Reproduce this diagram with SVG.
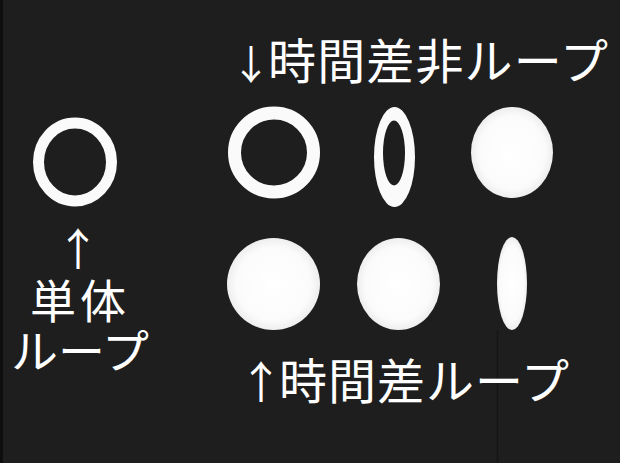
<svg xmlns="http://www.w3.org/2000/svg" width="620" height="463" viewBox="0 0 620 463">
<defs>
<radialGradient id="disc" cx="50%" cy="50%" r="50%">
<stop offset="0" stop-color="#ffffff"/>
<stop offset="0.8" stop-color="#fbfbfb"/>
<stop offset="1" stop-color="#eeeeee"/>
</radialGradient>
<style>
.lbl{font-family:"Noto Sans CJK JP","Noto Sans",sans-serif;fill:#ffffff;font-weight:400}
.ring{fill:none;stroke:#fafafa}
.solid{fill:url(#disc)}
</style>
</defs>
<rect width="620" height="463" fill="#1e1e1e"/>
<rect x="0" y="0" width="3" height="463" fill="#0e0e0e"/>
<line x1="497.5" y1="330" x2="497.5" y2="463" stroke="#161616" stroke-width="1.5"/>
<g id="single-loop">
<ellipse class="ring" cx="75" cy="162" rx="36.5" ry="39" stroke-width="11"/>
</g>
<g id="top-ring">
<ellipse class="ring" cx="274" cy="152.5" rx="39.5" ry="39.5" stroke-width="13"/>
</g>
<g id="top-thin-ring">
<path fill="#fafafa" fill-rule="evenodd" d="M374,157a20.5,50 0 1,0 41,0a20.5,50 0 1,0 -41,0z M383,153a11,32.5 0 1,0 22,0a11,32.5 0 1,0 -22,0z"/>
</g>
<g id="top-disc">
<ellipse class="solid" cx="512" cy="152.5" rx="41" ry="45.5"/>
</g>
<g id="bottom-disc-1">
<ellipse class="solid" cx="273.5" cy="284" rx="46.5" ry="46"/>
</g>
<g id="bottom-disc-2">
<ellipse class="solid" cx="398.5" cy="284" rx="41.5" ry="46"/>
</g>
<g id="bottom-thin-disc">
<ellipse class="solid" cx="512" cy="283.5" rx="15" ry="46.5"/>
</g>
<g id="labels">
<text class="lbl" font-size="48"><tspan x="251" y="79" font-size="40" text-anchor="middle">↓</tspan><tspan x="268" y="79" textLength="340" lengthAdjust="spacing">時間差非ループ</tspan></text>
<text class="lbl" font-size="46"><tspan x="78" y="266" font-size="44" text-anchor="middle">↑</tspan><tspan x="30" y="318" textLength="96" lengthAdjust="spacing">単体</tspan><tspan x="11" y="368" textLength="138" lengthAdjust="spacingAndGlyphs">ループ</tspan></text>
<text class="lbl" font-size="48"><tspan x="261" y="399" font-size="44" text-anchor="middle">↑</tspan><tspan x="279" y="399" textLength="290" lengthAdjust="spacing">時間差ループ</tspan></text>
</g>
</svg>
